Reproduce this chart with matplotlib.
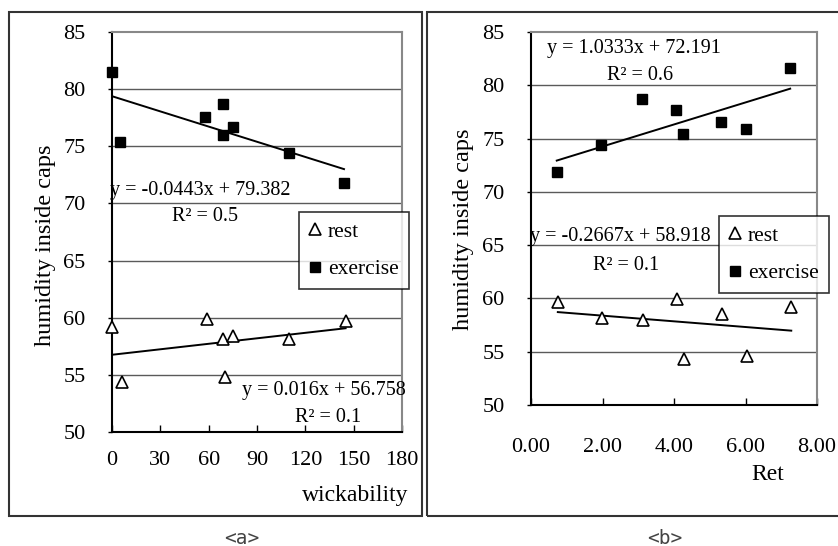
import matplotlib.pyplot as plt
import numpy as np
from matplotlib.lines import Line2D
from matplotlib.patches import Rectangle

plt.rcParams["font.family"] = ["Liberation Serif", "DejaVu Serif"]

# panel a: wickability
wick_ex = [0, 5, 58, 69, 69, 75, 110, 144]
hum_ex_a = [81.5, 75.4, 77.6, 78.7, 76.0, 76.7, 74.4, 71.8]
wick_rest = [0, 6, 59, 69, 70, 75, 110, 145]
hum_rest_a = [59.2, 54.4, 59.9, 58.1, 54.8, 58.4, 58.1, 59.7]
fit_ex_a = (-0.0443, 79.382)
fit_rest_a = (0.016, 56.758)

# panel b: Ret
ret_ex = [0.72, 1.97, 3.11, 4.05, 4.26, 5.31, 6.0, 7.25]
hum_ex_b = [71.9, 74.4, 78.7, 77.7, 75.4, 76.6, 75.9, 81.6]
ret_rest = [0.75, 1.98, 3.14, 4.07, 4.29, 5.34, 6.03, 7.28]
hum_rest_b = [59.7, 58.2, 58.0, 59.9, 54.3, 58.5, 54.6, 59.2]
fit_ex_b = (1.0333, 72.191)
fit_rest_b = (-0.2667, 58.918)

yticks = [50, 55, 60, 65, 70, 75, 80, 85]

W, H = 838, 546
fig = plt.figure(figsize=(W / 100, H / 100), dpi=100)


def fbox(x0, y0, x1, y1):
    # pixel box (top-left origin) -> figure fraction
    return [x0 / W, 1 - y1 / H, (x1 - x0) / W, (y1 - y0) / H]


def txt(x, y, s, size=14.5, **kw):
    fig.text(x / W, 1 - y / H, s, ha="center", va="center", fontsize=size, **kw)


def style_axes(ax, xpad):
    ax.set_ylim(50, 85)
    ax.set_yticks(yticks)
    for y in yticks[1:-1]:
        ax.axhline(y, color="#5a5a5a", lw=1, zorder=0)
    for s in ["left", "bottom"]:
        ax.spines[s].set_color("black")
        ax.spines[s].set_linewidth(1.5)
    for s in ["top", "right"]:
        ax.spines[s].set_color("#888888")
        ax.spines[s].set_linewidth(1.5)
    ax.tick_params(axis="x", direction="in", length=5, width=1, pad=xpad, labelsize=16)
    ax.tick_params(axis="y", direction="out", length=3, width=1, pad=16, labelsize=16)


def draw(ax, x_rest, y_rest, fit_rest, x_ex, y_ex, fit_ex):
    ax.plot(x_rest, y_rest, ls="none", marker="^", ms=8.5, mfc="white",
            mec="black", mew=1.2, clip_on=False, zorder=3)
    ax.plot(x_ex, y_ex, ls="none", marker="s", ms=7, color="black",
            clip_on=False, zorder=3)
    for xs, (m, b) in [(x_rest, fit_rest), (x_ex, fit_ex)]:
        xx = np.array([min(xs), max(xs)])
        ax.plot(xx, m * xx + b, color="black", lw=1.4, zorder=2)


def legend(ax, x0, y0):
    handles = [
        Line2D([], [], ls="none", marker="^", ms=8, mfc="white", mec="black", mew=1.2),
        Line2D([], [], ls="none", marker="s", ms=7, color="black"),
    ]
    leg = ax.legend(handles, ["rest", "exercise"], loc="upper left",
                    bbox_to_anchor=(x0 / W, 1 - y0 / H), bbox_transform=fig.transFigure,
                    fontsize=15.5, frameon=True, fancybox=False, handlelength=0.6,
                    handletextpad=0.3, borderpad=0.45, labelspacing=0.8, borderaxespad=0)
    leg.get_frame().set_edgecolor("black")
    leg.get_frame().set_linewidth(1.2)
    leg.set_zorder(5)


# panel frames
fig.patches.append(Rectangle((9 / W, 1 - 516 / H), 413 / W, 504 / H, transform=fig.transFigure,
                             fill=False, ec="#333333", lw=1.5))
fig.patches.append(Rectangle((427 / W, 1 - 516 / H), 420 / W, 504 / H, transform=fig.transFigure,
                             fill=False, ec="#333333", lw=1.5))

# <a>
ax1 = fig.add_axes(fbox(112, 32, 402, 432))
style_axes(ax1, 14)
ax1.set_xlim(0, 180)
ax1.set_xticks(np.arange(0, 181, 30))
draw(ax1, wick_rest, hum_rest_a, fit_rest_a, wick_ex, hum_ex_a, fit_ex_a)
legend(ax1, 299, 212)
txt(200, 190, f"y = {fit_ex_a[0]}x + {fit_ex_a[1]}")
txt(205, 217, "R² = 0.5")
txt(324, 391, f"y = {fit_rest_a[0]}x + {fit_rest_a[1]}")
txt(328, 417, "R² = 0.1")
txt(355, 496, "wickability", size=17)
txt(45, 245, "humidity inside caps", size=17.5, rotation=90)
txt(242, 538, "<a>", size=14, family="DejaVu Sans Mono", color="#444444")

# <b>
ax2 = fig.add_axes(fbox(531, 32, 817, 405))
style_axes(ax2, 24)
ax2.set_xlim(0, 8)
ax2.set_xticks(np.arange(0, 8.1, 2))
ax2.set_xticklabels([f"{v:.2f}" for v in np.arange(0, 8.1, 2)])
draw(ax2, ret_rest, hum_rest_b, fit_rest_b, ret_ex, hum_ex_b, fit_ex_b)
legend(ax2, 719, 216)
txt(634, 48, f"y = {fit_ex_b[0]}x + {fit_ex_b[1]}")
txt(640, 75, "R² = 0.6")
txt(620, 237, f"y = {fit_rest_b[0]}x + {fit_rest_b[1]}")
txt(626, 265, "R² = 0.1")
txt(768, 475, "Ret", size=17)
txt(463, 229, "humidity inside caps", size=17.5, rotation=90)
txt(665, 538, "<b>", size=14, family="DejaVu Sans Mono", color="#444444")

fig.savefig("out.png", dpi=100)
